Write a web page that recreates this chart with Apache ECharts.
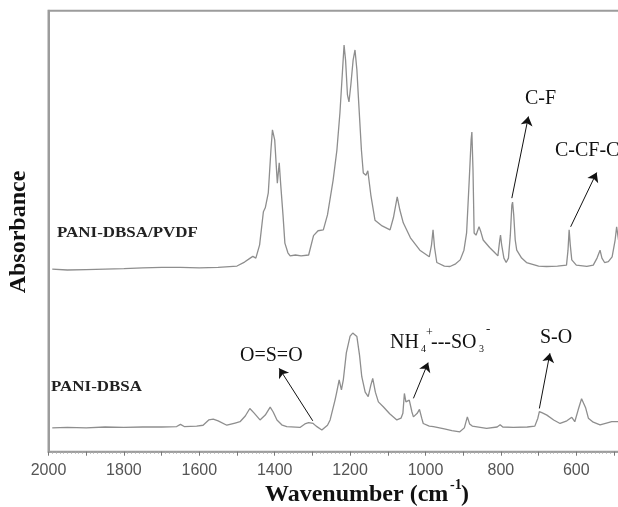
<!DOCTYPE html>
<html>
<head>
<meta charset="utf-8">
<script src="https://cdn.jsdelivr.net/npm/echarts@6/dist/echarts.min.js"></script>
<style>
  html, body { margin: 0; padding: 0; background: #ffffff; }
  #chart { width: 618px; height: 507px; }
</style>
</head>
<body>
<div id="chart"></div>
<script>
// FTIR spectra, wavenumber in cm^-1, absorbance in arbitrary units (offset traces)
const wnPvdf = [1990, 1950, 1900, 1850, 1800, 1750, 1700, 1650, 1600, 1550, 1500, 1480, 1465, 1458, 1450, 1440,
  1430, 1425, 1417, 1410, 1406, 1400, 1393, 1388, 1384, 1378, 1373, 1365, 1359, 1345, 1330, 1310, 1297, 1285,
  1271, 1260, 1245, 1235, 1227, 1220, 1216, 1212, 1207, 1203, 1198, 1192, 1187, 1182, 1178, 1170, 1165, 1158,
  1153, 1145, 1134, 1115, 1094, 1085, 1075, 1068, 1059, 1040, 1015, 990, 984, 980, 976, 970, 950, 935, 920, 908,
  898, 891, 884, 879, 877, 874, 871, 866, 858, 853, 847, 830, 816, 808, 803, 801, 798, 792, 786, 780, 775, 771,
  769, 766, 762, 758, 745, 732, 700, 679, 650, 626, 622, 619, 616, 612, 600, 572, 555, 545, 537, 532, 525, 515,
  505, 497, 493, 488];
const absPvdf = [0.414, 0.412, 0.413, 0.414, 0.415, 0.417, 0.418, 0.418, 0.417, 0.418, 0.421, 0.430, 0.439, 0.443,
  0.439, 0.469, 0.544, 0.553, 0.587, 0.684, 0.730, 0.707, 0.609, 0.655, 0.605, 0.537, 0.473, 0.451, 0.444, 0.446,
  0.444, 0.446, 0.490, 0.501, 0.503, 0.537, 0.616, 0.684, 0.768, 0.866, 0.922, 0.888, 0.809, 0.793, 0.832, 0.888,
  0.911, 0.866, 0.804, 0.684, 0.632, 0.627, 0.637, 0.582, 0.525, 0.512, 0.503, 0.531, 0.578, 0.548, 0.519, 0.485,
  0.457, 0.442, 0.469, 0.503, 0.463, 0.429, 0.421, 0.420, 0.426, 0.435, 0.457, 0.496, 0.616, 0.707, 0.725, 0.639,
  0.496, 0.491, 0.510, 0.498, 0.480, 0.463, 0.451, 0.444, 0.480, 0.491, 0.469, 0.439, 0.429, 0.439, 0.491, 0.559,
  0.566, 0.537, 0.480, 0.457, 0.439, 0.429, 0.421, 0.420, 0.421, 0.423, 0.457, 0.503, 0.469, 0.435, 0.423, 0.420,
  0.423, 0.439, 0.457, 0.439, 0.429, 0.431, 0.442, 0.480, 0.510, 0.480];

const wnDbsa = [1990, 1950, 1900, 1850, 1800, 1750, 1700, 1660, 1650, 1640, 1607, 1590, 1575, 1563, 1550, 1527,
  1505, 1492, 1478, 1466, 1455, 1439, 1425, 1412, 1404, 1394, 1380, 1368, 1333, 1320, 1310, 1298, 1290, 1275,
  1260, 1253, 1240, 1236, 1229, 1223, 1218, 1210, 1200, 1193, 1182, 1175, 1169, 1160, 1152, 1145, 1140, 1133,
  1125, 1112, 1095, 1076, 1065, 1060, 1056, 1052, 1048, 1043, 1036, 1032, 1022, 1016, 1010, 1006, 990, 979, 950,
  930, 909, 897, 889, 883, 876, 838, 810, 802, 795, 767, 730, 710, 702, 698, 690, 678, 660, 643, 625, 612, 604,
  595, 586, 581, 575, 568, 555, 537, 520, 506, 488];
const absDbsa = [0.054, 0.055, 0.054, 0.056, 0.055, 0.056, 0.056, 0.057, 0.062, 0.057, 0.058, 0.060, 0.072, 0.074,
  0.070, 0.060, 0.065, 0.068, 0.081, 0.098, 0.088, 0.072, 0.083, 0.101, 0.090, 0.072, 0.060, 0.057, 0.055, 0.063,
  0.066, 0.064, 0.058, 0.049, 0.060, 0.072, 0.117, 0.133, 0.163, 0.140, 0.163, 0.224, 0.262, 0.269, 0.261, 0.219,
  0.170, 0.135, 0.125, 0.151, 0.166, 0.135, 0.113, 0.102, 0.086, 0.072, 0.076, 0.087, 0.132, 0.113, 0.110, 0.117,
  0.090, 0.079, 0.087, 0.096, 0.076, 0.064, 0.058, 0.057, 0.052, 0.048, 0.045, 0.054, 0.079, 0.063, 0.058, 0.053,
  0.056, 0.061, 0.056, 0.055, 0.056, 0.058, 0.076, 0.091, 0.088, 0.083, 0.072, 0.064, 0.070, 0.078, 0.068, 0.095,
  0.120, 0.123, 0.099, 0.076, 0.067, 0.061, 0.065, 0.068, 0.068];

// Band assignment arrows: [tail wavenumber, tail abs, head wavenumber, head abs]
const arrowCF = [771, 0.575, 727, 0.760];
const arrowCCFC = [615, 0.510, 546, 0.633];
const arrowOSO = [1299, 0.070, 1388, 0.189];
const arrowNH4 = [1032, 0.121, 993, 0.202];
const arrowSO = [698, 0.098, 670, 0.223];

// Ticks every 100 cm^-1, numbered every 200 cm^-1
const xTickStep = 100;
const xLabelStep = 200;
const xMin = 400;
const xMax = 2000;

const traceColor = '#8e8e8e';
const frameColor = '#9c9c9c';
const serif = '"Liberation Serif", "Times New Roman", serif';

function zip(xs, ys) { return xs.map((x, i) => [x, ys[i]]); }
function arrow(a) { return [{ coord: [a[0], a[1]] }, { coord: [a[2], a[3]] }]; }

const chart = echarts.init(document.getElementById('chart'), null, { renderer: 'canvas' });

const arrowStyle = {
  silent: true, symbol: ['none', 'arrow'], symbolSize: 9,
  label: { show: false },
  lineStyle: { color: '#111111', width: 1, type: 'solid' },
  emphasis: { disabled: true }
};

const option = {
  animation: false,
  backgroundColor: '#ffffff',
  grid: {
    left: 48.5, top: 10.7, width: 603.2, height: 441,
    outerBoundsMode: 'none', containLabel: false,
    show: true, borderColor: frameColor, borderWidth: 2, backgroundColor: 'transparent'
  },
  xAxis: {
    type: 'value', inverse: true, min: xMin, max: xMax, interval: xTickStep,
    axisLine: { show: true, lineStyle: { color: frameColor, width: 1.5 } },
    axisTick: { show: true, inside: false, length: 4, lineStyle: { color: '#777', width: 1 } },
    minorTick: { show: true, splitNumber: 10, length: 2, lineStyle: { color: '#aaaaaa' } },
    splitLine: { show: false },
    axisLabel: {
      margin: 11, color: '#555555', fontSize: 16,
      fontFamily: '"Liberation Sans", Arial, sans-serif',
      formatter: (v) => (v % xLabelStep === 0 ? String(v) : '')
    }
  },
  yAxis: {
    type: 'value', min: 0, max: 1,
    axisLine: { show: true, lineStyle: { color: frameColor, width: 2 } },
    axisTick: { show: false }, axisLabel: { show: false }, splitLine: { show: false }
  },
  series: [
    {
      name: 'PANI-DBSA/PVDF', type: 'line', data: zip(wnPvdf, absPvdf),
      showSymbol: false, symbol: 'none', smooth: false,
      lineStyle: { color: traceColor, width: 1.3 },
      markLine: Object.assign({ data: [arrow(arrowCF), arrow(arrowCCFC)] }, arrowStyle)
    },
    {
      name: 'PANI-DBSA', type: 'line', data: zip(wnDbsa, absDbsa),
      showSymbol: false, symbol: 'none', smooth: false,
      lineStyle: { color: traceColor, width: 1.3 },
      markLine: Object.assign({ data: [arrow(arrowOSO), arrow(arrowNH4), arrow(arrowSO)] }, arrowStyle)
    }
  ]
};
chart.setOption(option);

function txt(x, y, text, size, opts) {
  opts = opts || {};
  return {
    type: 'text', x: x, y: y, rotation: opts.rotation || 0,
    scaleX: opts.scaleX || 1,
    silent: true, z: 10,
    style: {
      text: text,
      font: (opts.bold ? 'bold ' : '') + size + 'px ' + serif,
      fill: opts.fill || '#111111',
      textAlign: opts.align || 'left',
      textVerticalAlign: 'middle'
    }
  };
}

chart.setOption({
  graphic: [
    // axis titles
    txt(19, 232, 'Absorbance', 24, { bold: true, align: 'center', rotation: Math.PI / 2 }),
    txt(265, 495, 'Wavenumber (cm', 24, { bold: true }),
    txt(450, 485, '-1', 14, { bold: true }),
    txt(461, 495, ')', 24, { bold: true }),
    // trace names
    txt(57, 233, 'PANI-DBSA/PVDF', 15, { bold: true, scaleX: 1.13, fill: '#222222' }),
    txt(51, 387, 'PANI-DBSA', 15, { bold: true, scaleX: 1.13, fill: '#222222' }),
    // band labels
    txt(525, 99, 'C-F', 20),
    txt(555, 151, 'C-CF-C', 20),
    txt(240, 356, 'O=S=O', 20),
    txt(390, 343, 'NH', 20),
    txt(421, 349, '4', 10),
    txt(426, 333, '+', 12),
    txt(431, 343, '---SO', 20),
    txt(479, 349, '3', 10),
    txt(486, 330, '-', 13),
    txt(540, 338, 'S-O', 20)
  ]
});
</script>
</body>
</html>
